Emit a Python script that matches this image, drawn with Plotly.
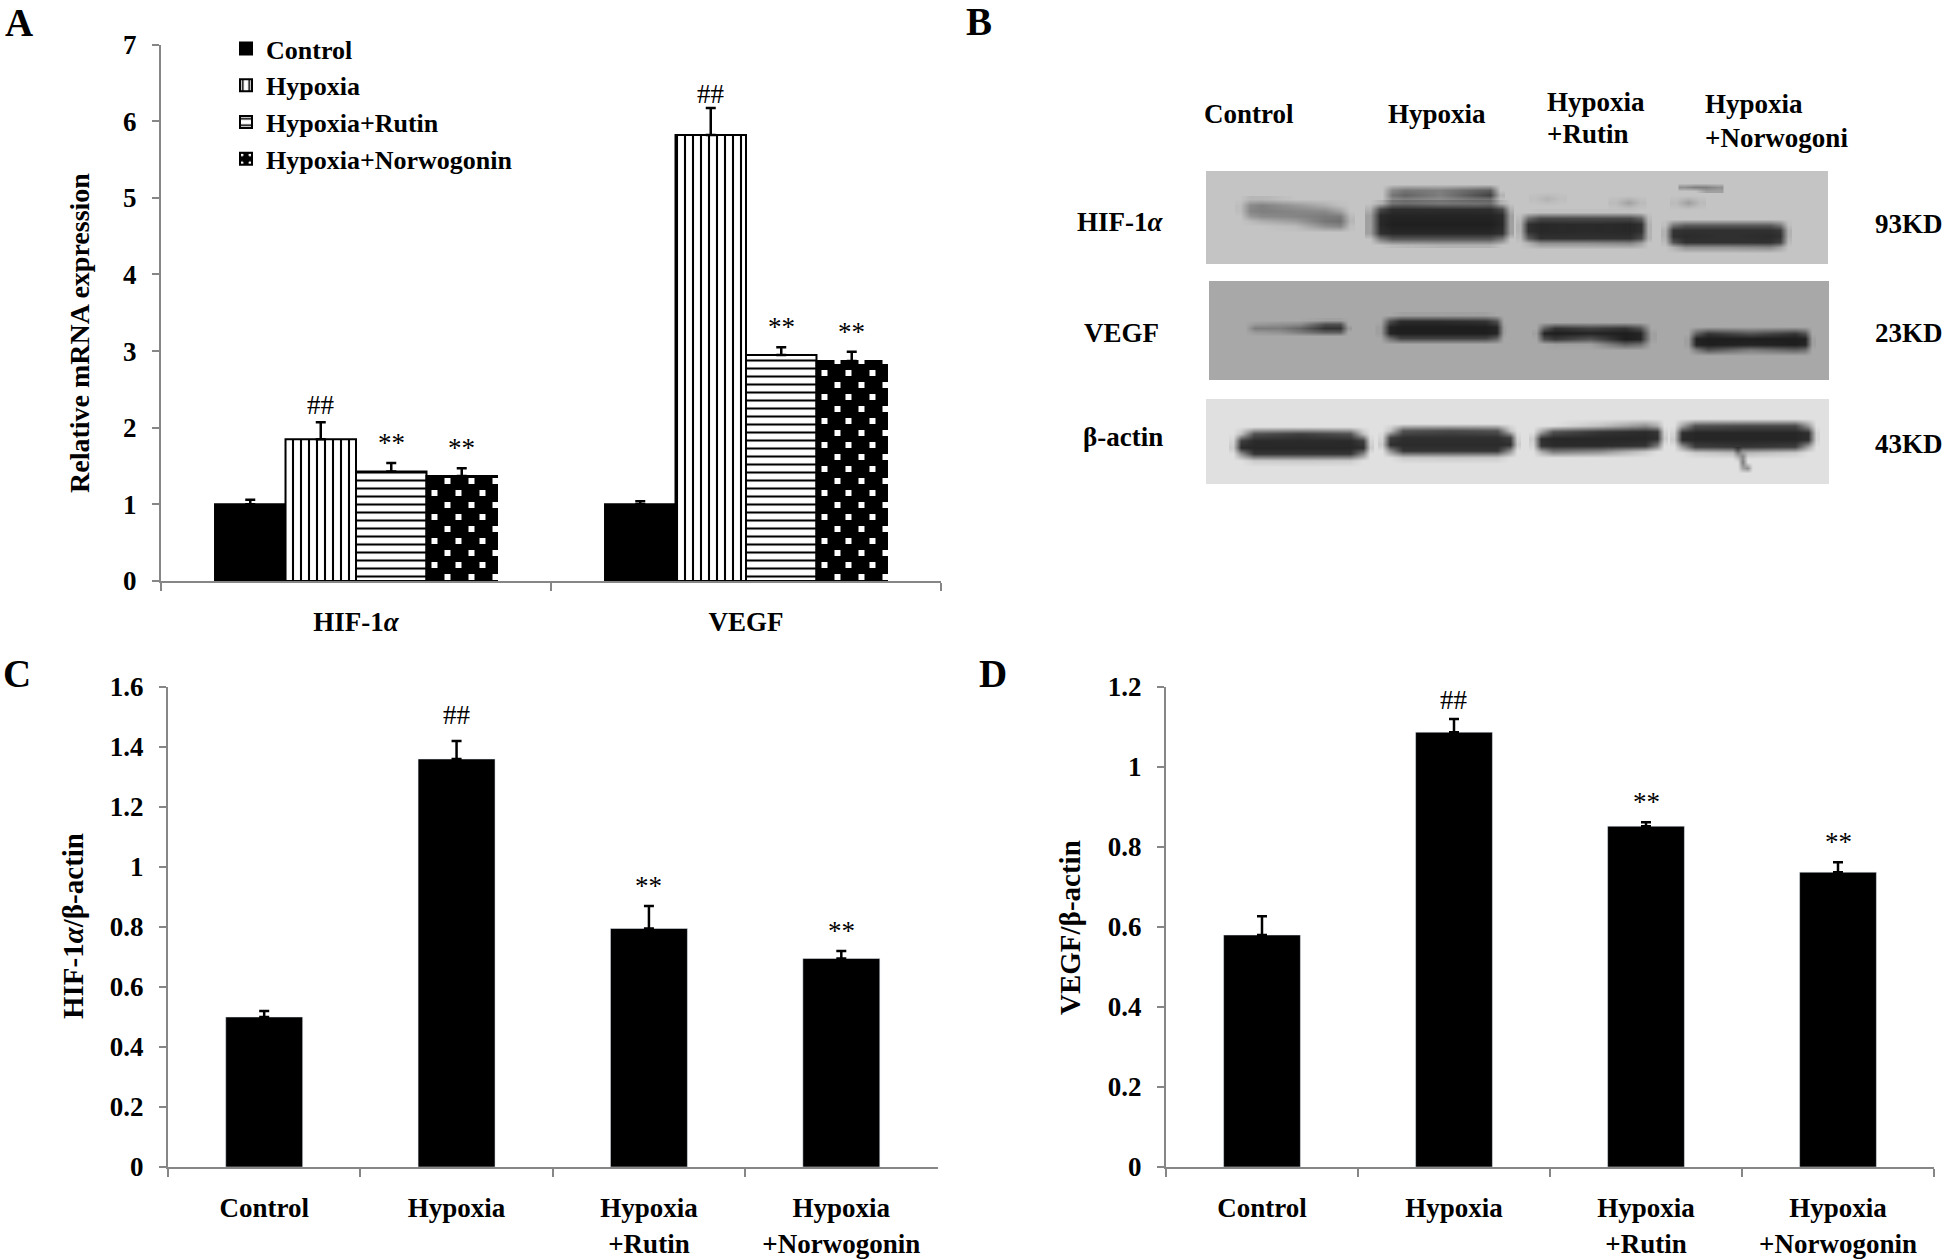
import plotly.graph_objects as go

W, H = 1946, 1259
FONT = "Liberation Serif"
AXIS_GREY = "#868686"

# Panel A
A_GROUPS = ["HIF-1<i>α</i>", "VEGF"]
A_SERIES = ["Control", "Hypoxia", "Hypoxia+Rutin", "Hypoxia+Norwogonin"]
A_CONTROL = [1.0, 1.0]
A_HYPOXIA = [1.85, 5.82]
A_RUTIN = [1.43, 2.95]
A_NORWOGONIN = [1.37, 2.87]
A_CONTROL_ERR = [0.06, 0.04]
A_HYPOXIA_ERR = [0.22, 0.35]
A_RUTIN_ERR = [0.11, 0.10]
A_NORWOGONIN_ERR = [0.10, 0.12]
A_MARKS = ["", "##", "**", "**"]

# Panels C and D
TREATMENTS = ["Control", "Hypoxia", "Hypoxia<br>+Rutin", "Hypoxia<br>+Norwogonin"]
C_VALUES = [0.5, 1.36, 0.795, 0.695]
C_ERR = [0.02, 0.06, 0.075, 0.025]
D_VALUES = [0.58, 1.087, 0.852, 0.737]
D_ERR = [0.047, 0.033, 0.01, 0.025]
CD_MARKS = ["", "##", "**", "**"]

# Panel B: blot backgrounds and bands, in image pixels.
# Each band is (x centres, y centres, darkness rows from 0 to 1).
BLOT_BOXES = [
    (1206, 171, 1828, 264, "#c4c4c4"),
    (1209, 281, 1829, 380, "#a8a8a8"),
    (1206, 399, 1829, 484, "#e0e0e0"),
]
HIF_BANDS = [
    ([1240, 1250, 1262, 1295, 1325, 1340, 1350], [199, 205, 211, 216, 221, 226, 232],
     [[0, .08, .08, 0, 0, 0, 0], [.03, .33, .38, .25, .12, .03, 0], [.03, .36, .4, .36, .33, .2, 0],
      [0, .25, .33, .36, .42, .42, .05], [0, .05, .12, .22, .45, .48, .08], [0, 0, 0, .05, .3, .35, .03],
      [0, 0, 0, 0, 0, 0, 0]]),
    ([1382, 1392, 1405, 1440, 1475, 1490, 1500], [184, 190, 195, 200, 206, 212],
     [[0, 0, 0, 0, 0, 0, 0], [0, .35, .45, .4, .55, .6, 0], [0, .45, .55, .4, .65, .75, .1],
      [0, .3, .35, .3, .4, .4, 0], [0, .25, .3, .2, .2, .25, 0], [0, 0, 0, 0, 0, 0, 0]]),
    ([1370, 1380, 1392, 1440, 1490, 1502, 1510], [203, 209, 215, 224, 233, 239, 245],
     [[0, .1, .25, .25, .25, .1, 0], [.1, .7, .85, .85, .85, .7, .1], [.2, .88, .92, .92, .92, .88, .2],
      [.2, .9, .95, .95, .95, .9, .2], [.2, .85, .9, .9, .9, .85, .2], [0, .4, .6, .6, .6, .4, 0],
      [0, 0, .05, .1, .1, 0, 0]]),
    ([1520, 1528, 1540, 1585, 1630, 1641, 1648], [212, 218, 224, 231, 238, 243, 249],
     [[0, 0, .02, .02, .02, 0, 0], [.05, .5, .7, .7, .7, .55, .05], [.1, .85, .9, .88, .9, .85, .1],
      [.1, .85, .9, .88, .9, .85, .1], [.05, .6, .85, .85, .85, .7, .1], [0, .1, .3, .3, .35, .2, 0],
      [0, 0, 0, 0, 0, 0, 0]]),
    ([1665, 1673, 1685, 1725, 1770, 1780, 1788], [219, 225, 230, 236, 242, 247, 253],
     [[0, 0, 0, 0, 0, 0, 0], [.03, .45, .6, .6, .6, .45, .03], [.1, .82, .85, .85, .85, .8, .1],
      [.1, .85, .88, .85, .88, .85, .1], [.05, .65, .85, .85, .85, .75, .05], [0, .1, .3, .3, .35, .2, 0],
      [0, 0, 0, 0, 0, 0, 0]]),
    ([1615, 1628, 1640], [195, 202, 209], [[0, 0, 0], [.05, .2, .05], [0, 0, 0]]),
    ([1535, 1547, 1560], [191, 198, 205], [[0, 0, 0], [.03, .1, .03], [0, 0, 0]]),
    ([1676, 1688, 1700], [195, 202, 209], [[0, 0, 0], [.05, .22, .05], [0, 0, 0]]),
    ([1684, 1695, 1705, 1717], [183, 187, 191], [[0, 0, 0, 0], [.3, .4, .4, .3], [0, 0, .2, .2]]),
]
VEGF_BANDS = [
    ([1245, 1255, 1280, 1300, 1325, 1340, 1348], [320, 324, 328, 332, 336],
     [[0, 0, 0, 0, .05, .05, 0], [0, .1, .15, .2, .6, .6, 0], [0, .3, .3, .45, .8, .8, .1],
      [0, .1, .15, .3, .5, .5, 0], [0, 0, 0, 0, 0, 0, 0]]),
    ([1380, 1389, 1400, 1440, 1485, 1496, 1503], [315, 321, 327, 333, 338, 344],
     [[0, 0, .05, .05, .05, 0, 0], [0, .6, .85, .85, .8, .6, 0], [.05, .9, .95, .95, .95, .9, .05],
      [.05, .9, .95, .95, .95, .9, .05], [0, .4, .7, .7, .7, .5, 0], [0, 0, 0, 0, 0, 0, 0]]),
    ([1536, 1544, 1555, 1590, 1625, 1640, 1651], [322, 328, 333, 339, 344, 350],
     [[0, 0, 0, 0, 0, 0, 0], [0, .5, .8, .7, .8, .6, 0], [.05, .9, .95, .9, .95, .9, .05],
      [0, .6, .75, .55, .95, .9, .05], [0, 0, .05, .05, .5, .4, 0], [0, 0, 0, 0, 0, 0, 0]]),
    ([1688, 1696, 1708, 1750, 1795, 1805, 1812], [326, 333, 338, 344, 349, 355],
     [[0, 0, 0, 0, 0, 0, 0], [0, .5, .8, .6, .8, .6, 0], [.05, .92, .95, .95, .95, .92, .05],
      [.05, .9, .95, .9, .95, .9, .05], [0, .3, .6, .3, .5, .4, 0], [0, 0, 0, 0, 0, 0, 0]]),
]
ACTIN_BANDS = [
    ([1233, 1241, 1254, 1300, 1350, 1363, 1370], [426, 433, 440, 447, 453, 460, 466],
     [[0, 0, 0, 0, 0, 0, 0], [0, .15, .7, .8, .7, .15, 0], [.05, .8, .9, .9, .9, .8, .05],
      [.1, .9, .92, .92, .92, .88, .1], [0, .4, .85, .85, .85, .45, 0], [0, 0, .1, .12, .1, 0, 0],
      [0, 0, 0, 0, 0, 0, 0]]),
    ([1382, 1390, 1403, 1450, 1497, 1510, 1517], [423, 430, 437, 444, 450, 457, 463],
     [[0, 0, 0, 0, 0, 0, 0], [0, .15, .7, .75, .7, .15, 0], [.05, .8, .88, .88, .88, .8, .05],
      [.1, .88, .9, .9, .9, .88, .1], [0, .4, .85, .85, .85, .4, 0], [0, 0, .1, .12, .1, 0, 0],
      [0, 0, 0, 0, 0, 0, 0]]),
    ([1533, 1541, 1553, 1600, 1645, 1657, 1664], [418, 425, 431, 438, 445, 451, 457],
     [[0, 0, 0, 0, 0, 0, 0], [0, 0, 0, .15, .4, .25, 0], [0, .3, .7, .85, .9, .85, .05],
      [.1, .88, .92, .92, .92, .88, .1], [.05, .85, .9, .9, .85, .5, 0], [0, .25, .5, .4, .1, 0, 0],
      [0, 0, 0, 0, 0, 0, 0]]),
    ([1674, 1682, 1695, 1745, 1795, 1808, 1816], [418, 425, 432, 439, 446, 452, 458],
     [[0, 0, 0, 0, 0, 0, 0], [0, .3, .7, .75, .75, .35, 0], [.05, .88, .92, .92, .92, .88, .05],
      [.1, .9, .92, .92, .92, .88, .05], [0, .35, .8, .85, .8, .3, 0], [0, 0, .1, .2, .1, 0, 0],
      [0, 0, 0, 0, 0, 0, 0]]),
    ([1732, 1737, 1742, 1747, 1752], [450, 456, 462, 468, 473],
     [[0, .5, 0, 0, 0], [0, .2, .4, 0, 0], [0, 0, .5, 0, 0], [0, 0, .3, .4, 0], [0, 0, 0, 0, 0]]),
]

LANE_LABELS = [
    ("Control", 1202, 114),
    ("Hypoxia", 1386, 114),
    ("Hypoxia", 1545, 102),
    ("+Rutin", 1545, 134),
    ("Hypoxia", 1703, 104),
    ("+Norwogoni", 1703, 138),
]
ROW_LABELS = [("HIF-1<i>α</i>", 1120, 222), ("VEGF", 1121, 333), ("β-actin", 1123, 437)]
SIZE_LABELS = [("93KD", 1873, 224), ("23KD", 1873, 333), ("43KD", 1873, 444)]
PANEL_LETTERS = [("A", 19, 22), ("B", 979, 21), ("C", 17, 673), ("D", 993, 673)]
Y_TITLES = [
    ("Relative mRNA expression", 79, 333, 28),
    ("HIF-1<i>α</i>/β-actin", 73, 926, 29),
    ("VEGF/β-actin", 1070, 928, 29),
]

# plot areas in image pixels
A_BOX = (161, 941, 44.5, 581)
C_BOX = (168, 937.5, 687, 1167)
D_BOX = (1166, 1934, 687, 1167)
A_YMAX = 7
A_BARGAP = 0.277
# gap in px between an error cap and the ## above it, per panel and group
HASH_GAP_A = [17, 14]
HASH_GAP_C = 26
HASH_GAP_D = 19
STAR_GAP = 20

fig = go.Figure()

# bar styles for the four series of panel A
A_STYLES = [
    dict(color="black"),
    dict(color="white", pattern=dict(shape="|", size=8, solidity=0.26, fgcolor="black", bgcolor="white", fgopacity=1)),
    dict(color="white", pattern=dict(shape="-", size=8, solidity=0.26, fgcolor="black", bgcolor="white", fgopacity=1)),
    dict(color="black"),
]
A_VALUES = [A_CONTROL, A_HYPOXIA, A_RUTIN, A_NORWOGONIN]
A_ERRS = [A_CONTROL_ERR, A_HYPOXIA_ERR, A_RUTIN_ERR, A_NORWOGONIN_ERR]
for s, (name, vals, errs, style) in enumerate(zip(A_SERIES, A_VALUES, A_ERRS, A_STYLES)):
    fig.add_trace(go.Bar(
        x=A_GROUPS, y=vals, name=name, legendgroup=name, offsetgroup=str(s), showlegend=s < 3,
        marker=dict(line=dict(color="black", width=2), **style),
        error_y=dict(type="data", symmetric=False, array=errs, color="black", thickness=2.5, width=5),
        xaxis="x", yaxis="y",
    ))
# legend entry only, the staggered dots of the bars can't come from a bar pattern
fig.add_trace(go.Bar(
    x=A_GROUPS, y=[None, None], name=A_SERIES[3], legendgroup=A_SERIES[3], offsetgroup="3",
    marker=dict(color="black", line=dict(color="black", width=2),
                pattern=dict(shape=".", size=12, solidity=0.12, fgcolor="white", bgcolor="black", fgopacity=1)),
    xaxis="x", yaxis="y",
))

# white dot texture of the Norwogonin bars, staggered every 12 px up from the base
px_per_cat = (A_BOX[1] - A_BOX[0]) / len(A_GROUPS)
px_per_unit = (A_BOX[3] - A_BOX[2]) / A_YMAX
bar_step = (1 - A_BARGAP) / 4
bar_px = bar_step * px_per_cat
dot_x, dot_y = [], []
for g, top in enumerate(A_NORWOGONIN):
    left = g + 1 * bar_step
    j = 0
    while 4 + 12 * j <= top * px_per_unit + 3:
        off = 8 if j % 2 else 21
        while off <= bar_px + 1:
            dot_x.append(left + off / px_per_cat)
            dot_y.append((4 + 12 * j) / px_per_unit)
            off += 24
        j += 1
fig.add_trace(go.Scatter(
    x=dot_x, y=dot_y, mode="markers", showlegend=False, hoverinfo="skip",
    marker=dict(symbol="square", size=6, color="white", line_width=0),
    xaxis="x6", yaxis="y",
))

fig.add_trace(go.Bar(
    x=TREATMENTS, y=C_VALUES, marker_color="black", showlegend=False, width=0.4,
    error_y=dict(type="data", symmetric=False, array=C_ERR, color="black", thickness=2.5, width=5),
    xaxis="x2", yaxis="y2",
))
fig.add_trace(go.Bar(
    x=TREATMENTS, y=D_VALUES, marker_color="black", showlegend=False, width=0.4,
    error_y=dict(type="data", symmetric=False, array=D_ERR, color="black", thickness=2.5, width=5),
    xaxis="x3", yaxis="y3",
))

for bx, by, bz in HIF_BANDS + VEGF_BANDS + ACTIN_BANDS:
    fig.add_trace(go.Heatmap(
        x=bx, y=by, z=bz, zmin=0, zmax=1, zsmooth="best", showscale=False, hoverinfo="skip",
        colorscale=[[0, "rgba(22,22,22,0)"], [1, "rgba(22,22,22,1)"]],
        xaxis="x4", yaxis="y4",
    ))


def text(label, x, y, size=27, bold=True, **kw):
    return dict(
        text=label, x=x, y=y, xref="x4", yref="y4", showarrow=False,
        font=dict(family=FONT, size=size, color="black", weight=700 if bold else 400), **kw
    )


annotations = []
for label, x, y in LANE_LABELS:
    annotations.append(text(label, x, y, xanchor="left"))
for label, x, y in ROW_LABELS:
    annotations.append(text(label, x, y))
for label, x, y in SIZE_LABELS:
    annotations.append(text(label, x, y, xanchor="left"))
for label, x, y in PANEL_LETTERS:
    annotations.append(text(label, x, y, size=39))
for label, x, y, size in Y_TITLES:
    annotations.append(text(label, x, y, size=size, textangle=-90))


def sig(mark, x, y, xref, yref, hash_gap):
    # significance marks sit just above the error bar caps
    shift = hash_gap if mark == "##" else STAR_GAP
    return dict(
        text=mark, x=x, y=y, xref=xref, yref=yref, showarrow=False, yshift=shift,
        font=dict(family=FONT, size=27, color="black"),
    )


for g in range(len(A_GROUPS)):
    for s, mark in enumerate(A_MARKS):
        if mark:
            annotations.append(sig(mark, g + (s - 1.5) * bar_step, A_VALUES[s][g] + A_ERRS[s][g], "x6", "y", HASH_GAP_A[g]))
for i, mark in enumerate(CD_MARKS):
    if mark:
        annotations.append(sig(mark, i, C_VALUES[i] + C_ERR[i], "x2", "y2", HASH_GAP_C))
        annotations.append(sig(mark, i, D_VALUES[i] + D_ERR[i], "x3", "y3", HASH_GAP_D))


def x_axis(box, anchor):
    return dict(
        domain=[box[0] / W, box[1] / W], anchor=anchor, type="category", tickson="boundaries",
        showline=True, linecolor=AXIS_GREY, linewidth=2, ticks="outside", tickcolor=AXIS_GREY,
        ticklen=8, tickwidth=2, showgrid=False, zeroline=False, ticklabelstandoff=16,
        tickfont=dict(family=FONT, size=27, color="black", weight=700),
    )


def y_axis(box, anchor, rng, dtick):
    return dict(
        domain=[1 - box[3] / H, 1 - box[2] / H], anchor=anchor, range=rng, dtick=dtick,
        showline=True, linecolor=AXIS_GREY, linewidth=2, ticks="outside", tickcolor=AXIS_GREY,
        ticklen=7, tickwidth=2, showgrid=False, zeroline=False, ticklabelstandoff=10,
        tickfont=dict(family=FONT, size=27, color="black", weight=700),
    )


fig.update_layout(
    width=W, height=H, margin=dict(l=0, r=0, t=0, b=0, autoexpand=False), autosize=False,
    paper_bgcolor="white", plot_bgcolor="rgba(0,0,0,0)",
    barmode="group", bargap=A_BARGAP, bargroupgap=0,
    xaxis=x_axis(A_BOX, "y"), yaxis=y_axis(A_BOX, "x", [0, A_YMAX], 1),
    xaxis2=x_axis(C_BOX, "y2"), yaxis2=y_axis(C_BOX, "x2", [0, 1.6], 0.2),
    xaxis3=x_axis(D_BOX, "y3"), yaxis3=y_axis(D_BOX, "x3", [0, 1.2], 0.2),
    xaxis4=dict(domain=[0, 1], range=[0, W], anchor="y4", visible=False),
    yaxis4=dict(domain=[0, 1], range=[H, 0], anchor="x4", visible=False),
    # numeric twin of the category axis of panel A, for the dots and marks
    xaxis6=dict(domain=[A_BOX[0] / W, A_BOX[1] / W], range=[-0.5, 1.5], anchor="y", visible=False),
    legend=dict(
        x=226 / W, y=1 - 25 / H, xanchor="left", yanchor="top", bgcolor="rgba(0,0,0,0)",
        traceorder="grouped", tracegroupgap=0, itemwidth=30,
        font=dict(family=FONT, size=26, color="black", weight=700),
    ),
    shapes=[
        dict(type="rect", xref="x4", yref="y4", x0=x0, y0=y0, x1=x1, y1=y1,
             fillcolor=color, line_width=0, layer="below")
        for x0, y0, x1, y1, color in BLOT_BOXES
    ],
    annotations=annotations,
)

fig.write_html("out.html", post_script="document.body.style.margin='0';", config={"displayModeBar": False})
